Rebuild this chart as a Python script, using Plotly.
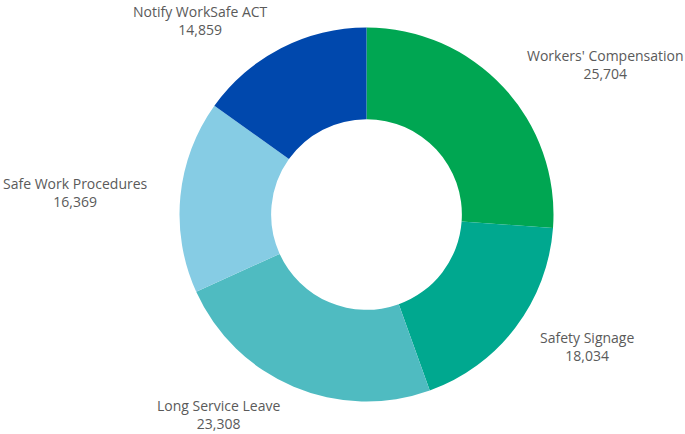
import math
import plotly.graph_objects as go

# Enquiry counts by topic
categories = ["Workers' Compensation", "Safety Signage", "Long Service Leave",
              "Safe Work Procedures", "Notify WorkSafe ACT"]
values = [25704, 18034, 23308, 16369, 14859]
colors = ["#00A652", "#00A88F", "#4FBBC1", "#86CCE4", "#0048AD"]

W, H = 685, 434
cx, cy, R = 366.5, 214.5, 187.0  # donut centre and outer radius in pixels

fig = go.Figure(go.Pie(
    labels=categories,
    values=values,
    hole=0.51,
    sort=False,
    direction="clockwise",
    rotation=0,
    marker=dict(colors=colors, line=dict(color="white", width=0)),
    textinfo="none",
    hoverinfo="label+value",
    domain=dict(x=[(cx - R) / W, (cx + R) / W],
                y=[(H - cy - R) / H, (H - cy + R) / H]),
    showlegend=False,
))

# Outside labels placed along each slice's mid angle, with small pixel nudges
label_nudge_x = [6, 6, -4, -9, -1]
label_nudge_y = [-5.5, 4, 0.5, -1.5, -1.5]

total = sum(values)
label_r = 208
cum = 0
annotations = []
for i, (name, v) in enumerate(zip(categories, values)):
    mid = (cum + v / 2) / total * 2 * math.pi
    cum += v
    px = cx + label_r * math.sin(mid) + label_nudge_x[i]
    py = cy - label_r * math.cos(mid) + label_nudge_y[i]
    # push top/bottom labels further out vertically
    py -= 10 * math.cos(mid) ** 3
    right = math.sin(mid) >= 0
    annotations.append(dict(
        x=px / W, y=1 - py / H, xref="paper", yref="paper",
        text=f"{name}<br>{v:,}",
        showarrow=False,
        xanchor="left" if right else "right",
        yanchor="middle",
        align="center",
        font=dict(family="Open Sans", size=14, color="#5a5a5a"),
    ))

fig.update_layout(
    width=W, height=H,
    margin=dict(l=0, r=0, t=0, b=0),
    paper_bgcolor="white",
    plot_bgcolor="white",
    annotations=annotations,
)

fig.write_html("out.html")
